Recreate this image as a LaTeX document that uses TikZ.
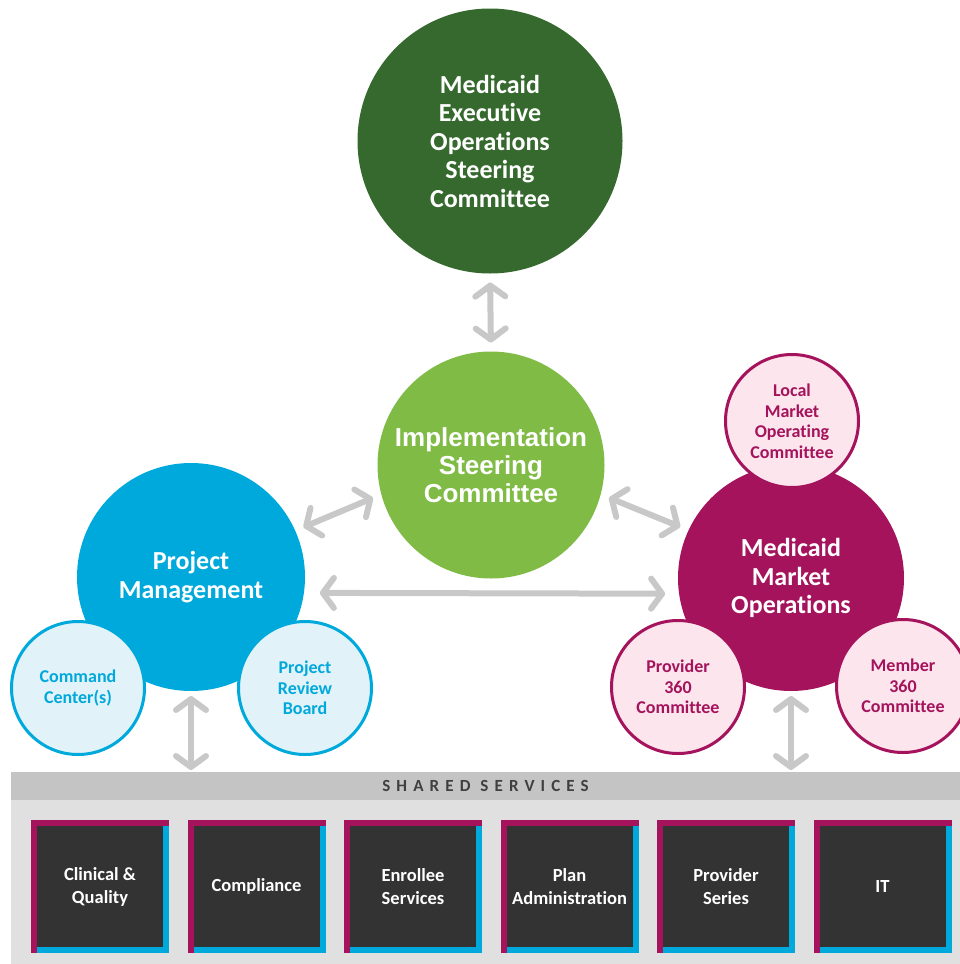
\documentclass[tikz,border=0pt]{standalone}
\usepackage{fontspec}
\setmainfont[Ligatures=NoCommon]{Carlito}
\newfontfamily\arialfont{Liberation Sans}
\newfontfamily\spacedfont[LetterSpace=36]{Carlito}
\usetikzlibrary{arrows.meta}
\definecolor{execgreen}{HTML}{35692D}
\definecolor{implgreen}{HTML}{7FBB45}
\definecolor{pmblue}{HTML}{00A9DB}
\definecolor{pmlight}{HTML}{E2F2F9}
\definecolor{mmored}{HTML}{A4135C}
\definecolor{mmolight}{HTML}{FCE5EC}
\definecolor{arrowgray}{HTML}{C8C8C8}
\definecolor{bargray}{HTML}{C4C4C4}
\definecolor{panelgray}{HTML}{E0E0E0}
\definecolor{boxdark}{HTML}{333333}
\definecolor{bartext}{HTML}{3F3F3F}
\tikzset{
  bigcircle/.style={circle, inner sep=0pt, outer sep=0pt, text=white, align=center,
    font=\bfseries\fontsize{26}{28.5}\selectfont},
  smallcircle/.style={circle, draw=#1, text=#1, line width=3pt, minimum size=133pt,
    inner sep=0pt, align=center, font=\bfseries\fontsize{18}{20.5}\selectfont},
  biarrow/.style={draw=arrowgray, line width=6pt,
    {Straight Barb[length=11pt,width=30pt,round]}-{Straight Barb[length=11pt,width=30pt,round]}},
  svcbox/.style={rectangle, fill=boxdark, minimum width=126pt, minimum height=121pt,
    inner sep=0pt, outer sep=0pt, text=white, align=center,
    font=\bfseries\fontsize{18.5}{23}\selectfont}
}
\begin{document}
\begin{tikzpicture}[x=1pt, y=-1pt]
		%%%%% START %%%%%
		\useasboundingbox (0,0) rectangle (960,964);
		\clip (0,0) rectangle (960,964);
		
		\node[bigcircle, fill=execgreen, minimum size=265pt] (exec) at (490,141) {Medicaid\\Executive\\Operations\\Steering\\Committee};
		\node[bigcircle, fill=implgreen, minimum size=227pt, font=\arialfont\bfseries\fontsize{26}{28}\selectfont] (impl) at (491,465) {Implementation\\Steering\\Committee};
		\node[bigcircle, fill=pmblue, minimum size=228pt] (pm) at (191,577) {Project\\Management};
		\node[bigcircle, fill=mmored, minimum size=226pt] (mmo) at (791,578) {Medicaid\\Market\\Operations};
		
		\node[smallcircle=pmblue, fill=pmlight] (cmd) at (78,688) {Command\\Center(s)};
		\node[smallcircle=pmblue, fill=pmlight] (review) at (305,688) {Project\\Review\\Board};
		\node[smallcircle=mmored, fill=mmolight] (local) at (792,421) {Local\\Market\\Operating\\Committee};
		\node[smallcircle=mmored, fill=mmolight] (prov) at (678,687) {Provider\\360\\Committee};
		\node[smallcircle=mmored, fill=mmolight] (member) at (903,686) {Member\\360\\Committee};
		
		\draw[biarrow, shorten <=9pt, shorten >=9pt] (exec.south) -- (impl.north);
		\draw[biarrow, shorten <=9pt, shorten >=9pt] (pm.24) -- (impl.195);
		\draw[biarrow, shorten <=9pt, shorten >=9pt] (impl.345) -- (mmo.155);
		\draw[biarrow, shorten <=16pt, shorten >=14pt] (pm.352) -- (mmo.188);
		
		\node[fill=bargray, minimum width=949pt, minimum height=28pt, inner sep=0pt, outer sep=0pt,
		  text=bartext, font=\spacedfont\bfseries\fontsize{17}{20}\selectfont] (bar) at (485.5,786) {SHARED SERVICES};
		\fill[panelgray] (bar.south west) rectangle (960,964);
		
		\draw[biarrow, shorten <=5pt, shorten >=2pt] (pm.south) -- (pm.south |- bar.north);
		\draw[biarrow, shorten <=5pt, shorten >=2pt] (mmo.south) -- (mmo.south |- bar.north);
		
		\foreach \label [count=\n from 0] in {{Clinical \&\\Quality}, Compliance, {Enrollee\\Services}, {Plan\\Administration}, {Provider\\Series}, IT}
		{
		  \node[svcbox] (svc\n) at ({100+156.5*\n}, 886.5) {\label};
		  \fill[mmored] ([shift={(-6,-6)}]svc\n.north west) rectangle ([shift={(0,6)}]svc\n.south west);
		  \fill[mmored] ([shift={(-6,-6)}]svc\n.north west) rectangle ([shift={(6,0)}]svc\n.north east);
		  \fill[pmblue] (svc\n.north east) rectangle ([shift={(6,6)}]svc\n.south east);
		  \fill[pmblue] (svc\n.south west) rectangle ([shift={(6,6)}]svc\n.south east);
		}
		
		%%%%% END %%%%%
\end{tikzpicture}
\end{document}
